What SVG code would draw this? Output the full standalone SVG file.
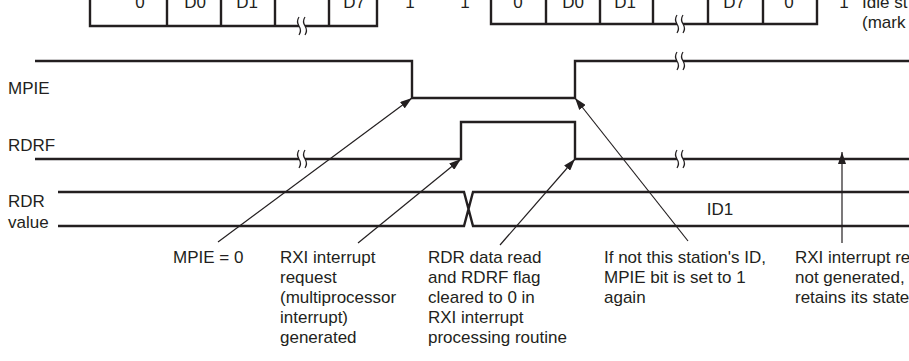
<svg xmlns="http://www.w3.org/2000/svg" width="909" height="361" viewBox="0 0 909 361">
<defs>
<style>
.t{font-family:"Liberation Sans",Arial,sans-serif;font-size:17px;fill:#231f20}
.tc{text-anchor:middle}
.w{fill:none;stroke:#231f20;stroke-width:2.4}
.a{fill:none;stroke:#231f20;stroke-width:1.2}
.brk{fill:none;stroke:#231f20;stroke-width:1.2}
</style>
<marker id="ah" viewBox="0 0 12 8" refX="12" refY="4" markerWidth="12" markerHeight="8" markerUnits="userSpaceOnUse" orient="auto">
<path d="M0,0 L12,4 L0,8 Z" fill="#231f20"/>
</marker>
<g id="brkmark">
<rect x="-3" y="-9" width="6" height="18" fill="#fff"/>
<path class="brk" d="M-3,-9 q-3,4.5 0,9 q3,4.5 0,9 M3,-9 q-3,4.5 0,9 q3,4.5 0,9"/>
</g>
</defs>
<rect width="909" height="361" fill="#fff"/>

<g id="frame1">
<path class="w" d="M90,-5 V26 H377 V-5 M167,-5 V26 M221,-5 V26 M275,-5 V26 M329,-5 V26"/>
<use href="#brkmark" x="302" y="26"/>
<text class="t tc" x="140" y="8">0</text>
<text class="t tc" x="195" y="8">D0</text>
<text class="t tc" x="247" y="8">D1</text>
<text class="t tc" x="354" y="8">D7</text>
<text class="t tc" x="410" y="8">1</text>
<text class="t tc" x="465" y="8">1</text>
</g>

<g id="frame2">
<path class="w" d="M491,-5 V24 H817 V-5 M546,-5 V24 M600,-5 V24 M653,-5 V24 M708,-5 V24 M763,-5 V24"/>
<use href="#brkmark" x="680" y="24"/>
<text class="t tc" x="518" y="8">0</text>
<text class="t tc" x="573" y="8">D0</text>
<text class="t tc" x="625" y="8">D1</text>
<text class="t tc" x="734" y="8">D7</text>
<text class="t tc" x="789" y="8">0</text>
<text class="t tc" x="844" y="8">1</text>
<text class="t" x="862" y="8">Idle st</text>
<text class="t" x="862" y="28">(mark</text>
</g>

<g id="MPIE">
<text class="t" x="8" y="94">MPIE</text>
<path class="w" d="M35,61 H412 V98 H575 V61 H912"/>
<use href="#brkmark" x="680" y="61"/>
</g>

<g id="RDRF">
<text class="t" x="8" y="151">RDRF</text>
<path class="w" d="M35,159 H461 V122 H575 V159 H912"/>
<use href="#brkmark" x="302" y="159"/>
<use href="#brkmark" x="680" y="159"/>
</g>

<g id="RDR">
<text class="t" x="8" y="207">RDR</text>
<text class="t" x="8" y="228">value</text>
<path class="w" d="M58,192 H464 L473,226 H912 M58,226 H464 L473,192 H912"/>
<text class="t tc" x="720" y="215">ID1</text>
</g>

<g id="connectors">
<line class="a" x1="218" y1="242" x2="412" y2="98" marker-end="url(#ah)"/>
<line class="a" x1="358" y1="243" x2="461" y2="159" marker-end="url(#ah)"/>
<line class="a" x1="500" y1="245" x2="575" y2="159" marker-end="url(#ah)"/>
<line class="a" x1="688" y1="241" x2="575" y2="98" marker-end="url(#ah)"/>
<line class="a" x1="842" y1="243" x2="842" y2="152" marker-end="url(#ah)"/>
</g>

<g id="label1">
<text class="t" x="173" y="263">MPIE = 0</text>
</g>
<g id="label2">
<text class="t" x="280" y="263">RXI interrupt</text>
<text class="t" x="280" y="283">request</text>
<text class="t" x="280" y="303">(multiprocessor</text>
<text class="t" x="280" y="323">interrupt)</text>
<text class="t" x="280" y="343">generated</text>
</g>
<g id="label3">
<text class="t" x="428" y="263">RDR data read</text>
<text class="t" x="428" y="283">and RDRF flag</text>
<text class="t" x="428" y="303">cleared to 0 in</text>
<text class="t" x="428" y="323">RXI interrupt</text>
<text class="t" x="428" y="343">processing routine</text>
</g>
<g id="label4">
<text class="t" x="604" y="263">If not this station's ID,</text>
<text class="t" x="604" y="283">MPIE bit is set to 1</text>
<text class="t" x="604" y="303">again</text>
</g>
<g id="label5">
<text class="t" x="795" y="263">RXI interrupt re</text>
<text class="t" x="795" y="283">not generated,</text>
<text class="t" x="795" y="303">retains its state</text>
</g>
</svg>
